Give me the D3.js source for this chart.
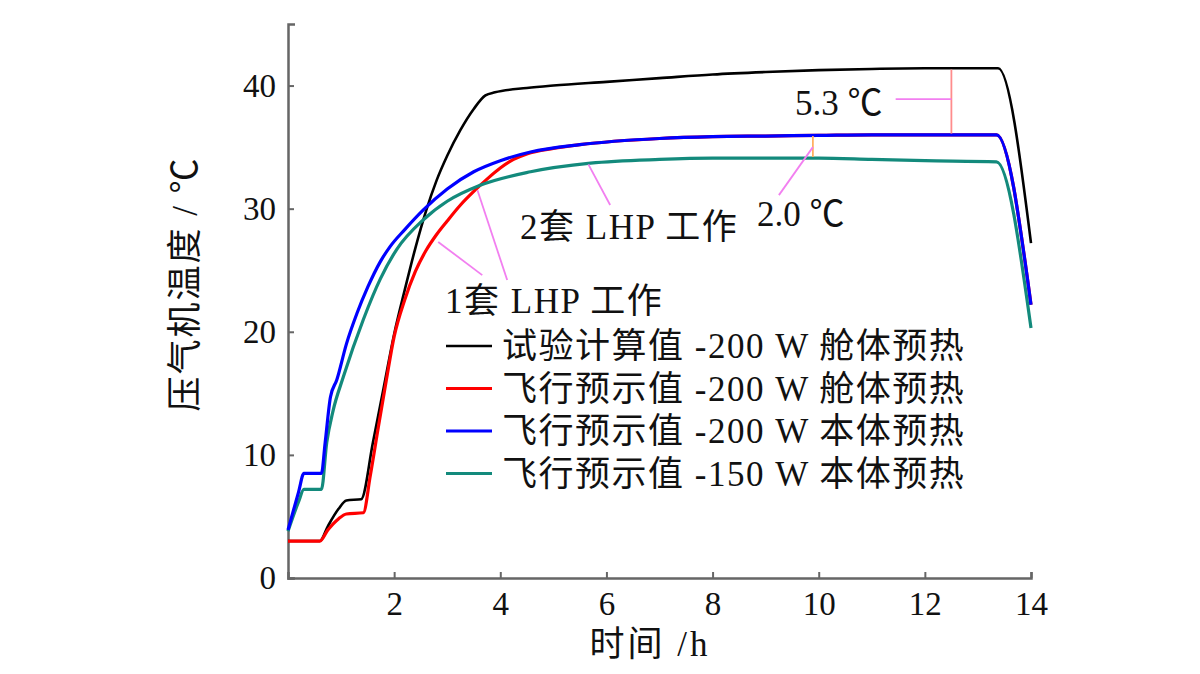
<!DOCTYPE html>
<html>
<head>
<meta charset="utf-8">
<script src="https://cdn.jsdelivr.net/npm/d3@7"></script>
<style>
  html, body { margin: 0; padding: 0; background: #fff; }
  svg text { font-family: "Liberation Serif", "Noto Sans CJK SC", serif; fill: #111; }
</style>
</head>
<body>
<svg id="chart" width="1200" height="674"></svg>
<script>
// ---------------- data ----------------
const xTicks = [2, 4, 6, 8, 10, 12, 14];
const yTicks = [0, 10, 20, 30, 40];

const blackT = [0, 0.6, 0.75, 0.95, 1.1, 1.38, 1.6, 1.8, 2.0, 2.2, 2.4, 2.6, 2.8, 3.0, 3.25, 3.5, 3.72, 3.9, 4.5, 5, 6, 7, 8, 9, 10, 11, 12, 13.38, 14];
const blackV = [3.0, 3.0, 4.2, 5.6, 6.3, 6.4, 11.0, 15.4, 19.8, 23.4, 26.8, 29.8, 32.3, 34.3, 36.4, 38.1, 39.2, 39.45, 39.8, 40.0, 40.3, 40.6, 40.9, 41.1, 41.25, 41.35, 41.4, 41.4, 27.2];

const redT = [0, 0.6, 0.75, 0.95, 1.1, 1.42, 1.55, 1.7, 1.85, 2.0, 2.2, 2.4, 2.6, 2.8, 3.0, 3.25, 3.5, 3.75, 4.0, 4.25, 4.5, 5.0, 5.5, 7.0, 8, 9, 10, 11, 12, 13.35, 14];
const redV = [3.0, 3.0, 3.9, 4.8, 5.2, 5.3, 8.3, 12.2, 16.0, 19.6, 22.6, 24.9, 26.6, 27.9, 29.0, 30.3, 31.4, 32.4, 33.3, 34.0, 34.45, 34.9, 35.2, 35.7, 35.85, 35.9, 35.95, 36.0, 36.0, 36.0, 22.2];

const blueT = [0, 0.2, 0.3, 0.63, 0.7, 0.8, 0.92, 1.1, 1.3, 1.5, 1.74, 1.92, 2.2, 2.55, 3.0, 3.5, 4.0, 4.57, 5.5, 7.0, 8, 9, 10, 11, 12, 13.35, 14];
const blueV = [3.9, 7.0, 8.5, 8.5, 11.0, 14.7, 16.1, 19.0, 21.5, 23.6, 25.7, 26.9, 28.3, 29.9, 31.6, 33.0, 33.9, 34.6, 35.2, 35.7, 35.85, 35.9, 35.95, 36.0, 36.0, 36.0, 22.2];

const tealT = [0, 0.2, 0.3, 0.63, 0.73, 0.85, 1.04, 1.42, 1.74, 2.05, 2.55, 3.0, 3.62, 4.57, 5.7, 7, 8, 9, 10, 11, 12, 13.35, 14];
const tealV = [3.8, 6.2, 7.2, 7.2, 11.0, 13.6, 16.3, 21.0, 24.3, 26.7, 29.1, 30.6, 31.9, 33.0, 33.7, 34.0, 34.1, 34.1, 34.1, 34.0, 33.9, 33.8, 20.3];

const seriesNames = ["试验计算值 -200 W 舱体预热", "飞行预示值 -200 W 舱体预热", "飞行预示值 -200 W 本体预热", "飞行预示值 -150 W 本体预热"];
const seriesColors = ["#000000", "#ff0000", "#0000ff", "#138a7c"];

// ---------------- layout ----------------
const svg = d3.select("#chart");
const x = d3.scaleLinear().domain([0, 14]).range([288, 1031]);
const y = d3.scaleLinear().domain([0, 45]).range([578, 24]);

const axisColor = "#666";

// axes
const gx = svg.append("g").attr("transform", `translate(0,${y(0)})`)
  .call(d3.axisBottom(x).tickValues(xTicks).tickSizeInner(-6).tickSizeOuter(-6).tickPadding(14));
const gy = svg.append("g").attr("transform", `translate(${x(0)},0)`)
  .call(d3.axisLeft(y).tickValues(yTicks).tickSizeInner(-6).tickSizeOuter(-7).tickPadding(12));
[gx, gy].forEach(g => {
  g.select(".domain").attr("stroke", axisColor).attr("stroke-width", 2.5);
  g.selectAll(".tick line").attr("stroke", axisColor).attr("stroke-width", 2);
  g.selectAll(".tick text").attr("font-size", 33).attr("fill", "#111")
    .style("font-family", "'Liberation Serif', serif");
});
gx.selectAll(".tick text").attr("dy", "0.71em");

// lines
const line = d3.line().x(d => x(d[0])).y(d => y(d[1])).curve(d3.curveMonotoneX);
const series = [
  d3.zip(blackT, blackV),
  d3.zip(redT, redV),
  d3.zip(tealT, tealV),
  d3.zip(blueT, blueV)
];
const seriesCol = [seriesColors[0], seriesColors[1], seriesColors[3], seriesColors[2]];
const seriesW = [2.6, 3.2, 3.2, 3.2];
series.forEach((s, i) => {
  svg.append("path").datum(s).attr("d", line).attr("fill", "none")
    .attr("stroke", seriesCol[i]).attr("stroke-width", seriesW[i]).attr("stroke-linejoin", "round");
});

// annotations
const pink = "#f27ff0";
const fs = 35;
// 5.3 ℃
svg.append("line").attr("x1", x(12.5)).attr("x2", x(12.5)).attr("y1", y(41.3)).attr("y2", y(36.1))
  .attr("stroke", "#ff8c8c").attr("stroke-width", 1.8);
svg.append("line").attr("x1", x(11.45)).attr("x2", x(12.5)).attr("y1", y(38.9)).attr("y2", y(38.9))
  .attr("stroke", pink).attr("stroke-width", 1.8);
svg.append("text").attr("x", 795).attr("y", 115).attr("font-size", fs).text("5.3 ℃");
// 2.0 ℃
svg.append("line").attr("x1", x(9.89)).attr("x2", x(9.89)).attr("y1", y(35.9)).attr("y2", y(34.2))
  .attr("stroke", "#ffb060").attr("stroke-width", 1.8);
svg.append("line").attr("x1", x(9.25)).attr("x2", x(9.89)).attr("y1", y(31.1)).attr("y2", y(35.0))
  .attr("stroke", pink).attr("stroke-width", 1.8);
svg.append("text").attr("x", 757).attr("y", 226).attr("font-size", fs).text("2.0 ℃");
// 2套 LHP 工作
svg.append("line").attr("x1", x(6.07)).attr("x2", x(5.66)).attr("y1", y(30.3)).attr("y2", y(33.6))
  .attr("stroke", pink).attr("stroke-width", 1.8);
svg.append("text").attr("x", 520).attr("y", 239).attr("font-size", fs).attr("letter-spacing", 1.5).text("2套 LHP 工作");
// 1套 LHP 工作
svg.append("line").attr("x1", x(2.83)).attr("x2", x(3.66)).attr("y1", y(27.3)).attr("y2", y(24.6))
  .attr("stroke", pink).attr("stroke-width", 1.8);
svg.append("line").attr("x1", x(3.57)).attr("x2", x(4.13)).attr("y1", y(31.5)).attr("y2", y(24.2))
  .attr("stroke", pink).attr("stroke-width", 1.8);
svg.append("text").attr("x", 445).attr("y", 313).attr("font-size", fs).attr("letter-spacing", 1.5).text("1套 LHP 工作");

// legend
const legend = svg.append("g");
seriesNames.forEach((name, i) => {
  const yy = 346 + i * 42.5;
  legend.append("line").attr("x1", 446).attr("x2", 492).attr("y1", yy).attr("y2", yy)
    .attr("stroke", seriesColors[i]).attr("stroke-width", i === 0 ? 2.4 : 3);
  legend.append("text").attr("x", 502).attr("y", yy + 12).attr("font-size", fs)
    .attr("letter-spacing", 1.5).text(name);
});

// axis titles
svg.append("text").attr("x", 650).attr("y", 656).attr("text-anchor", "middle").attr("font-size", fs)
  .attr("letter-spacing", 3).text("时间 /h");
svg.append("text").attr("transform", "translate(197,284) rotate(-90)").attr("text-anchor", "middle")
  .attr("font-size", fs).attr("letter-spacing", 2).text("压气机温度 / ℃");
</script>
</body>
</html>
